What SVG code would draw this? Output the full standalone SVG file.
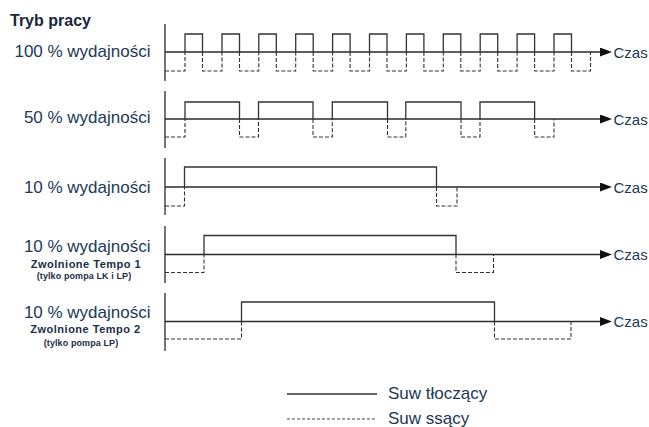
<svg xmlns="http://www.w3.org/2000/svg" width="649" height="427" viewBox="0 0 649 427">
<defs>
<style>
.lbl{font-family:"Liberation Sans",Arial,sans-serif;font-size:17px;fill:#203a56}
.czas{font-family:"Liberation Sans",Arial,sans-serif;font-size:15px;fill:#203a56}
.sub{font-family:"Liberation Sans",Arial,sans-serif;font-size:11px;font-weight:bold;fill:#1b2e45;letter-spacing:0.5px;text-anchor:middle}
.sub2{font-family:"Liberation Sans",Arial,sans-serif;font-size:9px;font-weight:bold;fill:#1b2e45;letter-spacing:0.1px;text-anchor:middle}
.axis{stroke:#2a2a2a;stroke-width:1.3;fill:none}
.solid{stroke:#333;stroke-width:1.3;fill:none}
.dash{stroke:#333;stroke-width:1.1;fill:none;stroke-dasharray:4 2}
.ldash{stroke:#444;stroke-width:1.1;fill:none;stroke-dasharray:3 2}
</style>
<marker id="arr" markerUnits="userSpaceOnUse" markerWidth="12" markerHeight="9" viewBox="0 0 12 9" refX="0" refY="4.5" orient="auto">
<path d="M0,0 L12,4.5 L0,9 z" fill="#111"/>
</marker>
</defs>
<rect width="649" height="427" fill="#fff"/>
<text x="10" y="26" style="font-family:'Liberation Sans',Arial,sans-serif;font-size:16px;font-weight:bold;fill:#18263b">Tryb pracy</text>

<g id="row1">
<text class="lbl" x="150.5" y="57" text-anchor="end">100 % wydajności</text>
<line class="axis" x1="165" y1="24" x2="165" y2="81"/>
<line class="axis" x1="165" y1="52" x2="600" y2="52" marker-end="url(#arr)"/>
<path class="solid" d="M185,52V34H202.5V52M222,52V34H239.5V52M258.8,52V34H276.3V52M295.7,52V34H313.2V52M332.6,52V34H350.1V52M369.5,52V34H387V52M406.4,52V34H423.9V52M443.3,52V34H460.8V52M480.2,52V34H497.7V52M517.1,52V34H534.6V52M554,52V34H571.5V52"/>
<path class="dash" d="M165,71H185V52M202.5,52V71H222V52M239.5,52V71H258.8V52M276.3,52V71H295.7V52M313.2,52V71H332.6V52M350.1,52V71H369.5V52M387,52V71H406.4V52M423.9,52V71H443.3V52M460.8,52V71H480.2V52M497.7,52V71H517.1V52M534.6,52V71H554V52M571.5,52V71H590.5V52"/>
<text class="czas" x="613.5" y="57.5">Czas</text>
</g>

<g id="row2">
<text class="lbl" x="150.5" y="123" text-anchor="end">50 % wydajności</text>
<line class="axis" x1="165" y1="91" x2="165" y2="148"/>
<line class="axis" x1="165" y1="119" x2="600" y2="119" marker-end="url(#arr)"/>
<path class="solid" d="M185,119V102H239.5V119M258.5,119V102H313V119M332.3,119V102H387.5V119M405.8,119V102H461V119M480,119V102H534.6V119"/>
<path class="dash" d="M165,137H185V119M239.5,119V137H258.5V119M313,119V137H332.3V119M387.5,119V137H405.8V119M461,119V137H480V119M534.6,119V137H554V119"/>
<text class="czas" x="613.5" y="124.5">Czas</text>
</g>

<g id="row3">
<text class="lbl" x="150.5" y="193" text-anchor="end">10 % wydajności</text>
<line class="axis" x1="165" y1="158" x2="165" y2="215"/>
<line class="axis" x1="165" y1="187" x2="600" y2="187" marker-end="url(#arr)"/>
<path class="solid" d="M184.5,187V167H436.5V187"/>
<path class="dash" d="M165,206H184.5V187M436.5,187V206H457V187"/>
<text class="czas" x="613.5" y="192.5">Czas</text>
</g>

<g id="row4">
<text class="lbl" x="150.5" y="252" text-anchor="end">10 % wydajności</text>
<text class="sub" x="86" y="268">Zwolnione Tempo 1</text>
<text class="sub2" x="84" y="279">(tylko pompa LK i LP)</text>
<line class="axis" x1="165" y1="226" x2="165" y2="283"/>
<line class="axis" x1="165" y1="254.5" x2="600" y2="254.5" marker-end="url(#arr)"/>
<path class="solid" d="M204,254.5V235.5H456V254.5"/>
<path class="dash" d="M165,272.5H204V254.5M456,254.5V272.5H493.5V254.5"/>
<text class="czas" x="613.5" y="260">Czas</text>
</g>

<g id="row5">
<text class="lbl" x="150.5" y="317.5" text-anchor="end">10 % wydajności</text>
<text class="sub" x="85.5" y="333">Zwolnione Tempo 2</text>
<text class="sub2" x="81" y="346">(tylko pompa LP)</text>
<line class="axis" x1="165" y1="293" x2="165" y2="351"/>
<line class="axis" x1="165" y1="321.5" x2="600" y2="321.5" marker-end="url(#arr)"/>
<path class="solid" d="M241.5,321.5V302H494.5V321.5"/>
<path class="dash" d="M165,339H241.5V321.5M494.5,321.5V339H571V321.5"/>
<text class="czas" x="613.5" y="327">Czas</text>
</g>

<g id="legend">
<line class="solid" x1="287" y1="394" x2="377" y2="394"/>
<line class="ldash" x1="287" y1="419" x2="375" y2="419"/>
<text class="lbl" x="388" y="399">Suw tłoczący</text>
<text class="lbl" x="388" y="424">Suw ssący</text>
</g>
</svg>
